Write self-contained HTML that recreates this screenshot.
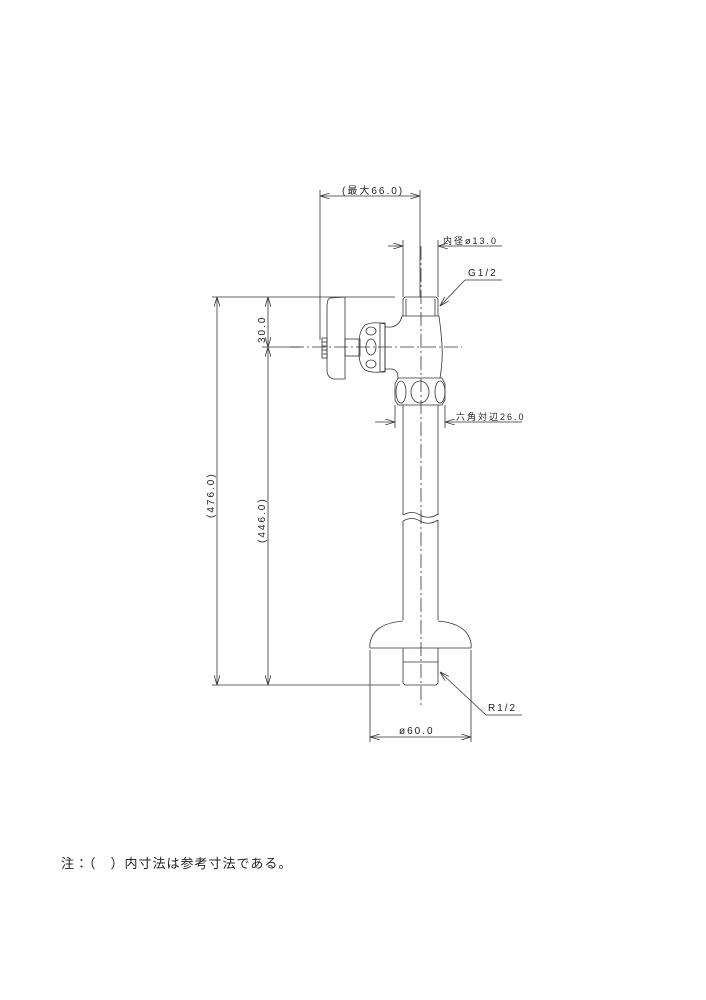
<!DOCTYPE html>
<html><head><meta charset="utf-8"><style>
html,body{margin:0;padding:0;background:#fff;}
svg{display:block;}
text{font-family:"Liberation Sans","Noto Sans CJK JP",sans-serif;fill:#222;}
</style></head><body>
<svg width="706" height="1000" viewBox="0 0 706 1000" xmlns="http://www.w3.org/2000/svg">
<defs>
<marker id="a" markerWidth="10" markerHeight="6" refX="10" refY="3" orient="auto-start-reverse" markerUnits="userSpaceOnUse">
<path d="M0,0 L10,3 L0,6" fill="none" stroke="#333" stroke-width="0.8"/></marker>
</defs>
<g stroke="#333" stroke-width="0.8" fill="none">
<line x1="421" y1="246" x2="421" y2="705" stroke-dasharray="14,3,2,3"/>
<line x1="290" y1="347" x2="462" y2="347" stroke-dasharray="14,3,2,3"/>
<line x1="320" y1="190" x2="320" y2="340"/>
<line x1="420" y1="190" x2="420" y2="297"/>
<line x1="320" y1="196" x2="420" y2="196" marker-start="url(#a)" marker-end="url(#a)"/>
<line x1="403" y1="240" x2="403" y2="297"/>
<line x1="438" y1="240" x2="438" y2="297"/>
<line x1="388" y1="246" x2="403" y2="246" marker-end="url(#a)"/>
<line x1="438" y1="246" x2="502" y2="246" marker-start="url(#a)"/>
<line x1="502" y1="280" x2="465" y2="280"/>
<line x1="465" y1="280" x2="440" y2="306" marker-end="url(#a)"/>
<line x1="212" y1="297" x2="395" y2="297"/>
<line x1="262" y1="347" x2="300" y2="347"/>
<line x1="212" y1="685" x2="400" y2="685"/>
<line x1="217" y1="297" x2="217" y2="685" marker-start="url(#a)" marker-end="url(#a)"/>
<line x1="268" y1="297" x2="268" y2="347" marker-start="url(#a)" marker-end="url(#a)"/>
<line x1="268" y1="347" x2="268" y2="685" marker-start="url(#a)" marker-end="url(#a)"/>
<path d="M330,298 L345,297 L345,379 L333,379 Q327,377 327,370 L327,307 Q327,299 330,298 Z"/>
<rect x="322" y="338" width="5" height="20"/>
<line x1="322" y1="342" x2="327" y2="342"/><line x1="322" y1="346" x2="327" y2="346"/><line x1="322" y1="350" x2="327" y2="350"/><line x1="322" y1="354" x2="327" y2="354"/>
<rect x="345" y="339" width="15" height="17"/>
<path d="M365,325 Q360,330 359,340 L359,356 Q360,366 365,370 Q372,373 380,372 L385,371 L385,324 L380,323 Q372,322 365,325 Z"/>
<rect x="380" y="323" width="5" height="49"/>
<ellipse cx="371" cy="331" rx="5" ry="4"/>
<ellipse cx="371" cy="347" rx="5" ry="8"/>
<ellipse cx="371" cy="364" rx="5" ry="4"/>
<path d="M385,327 L392,327 Q400,325 402,316 L439,316 Q441,330 442,345 Q443,360 440,378"/>
<path d="M385,369 L392,369 Q398,370 398,378"/>
<path d="M403,316 L403,299 L405,297 L436,297 L438,299 L438,316"/>
<line x1="406" y1="299" x2="406" y2="316"/><line x1="435" y1="299" x2="435" y2="316"/>
<path d="M398,378 L442,378 L445,384 L445,400 L442,405 L398,405 L395,400 L395,384 Z"/>
<ellipse cx="401" cy="392" rx="5" ry="11"/>
<ellipse cx="420" cy="392" rx="9" ry="11"/>
<ellipse cx="440" cy="392" rx="5" ry="11"/>
<line x1="395" y1="405" x2="395" y2="428"/><line x1="445" y1="405" x2="445" y2="428"/>
<line x1="375" y1="422" x2="395" y2="422" marker-end="url(#a)"/>
<line x1="445" y1="422" x2="522" y2="422" marker-start="url(#a)"/>
<line x1="403" y1="405" x2="403" y2="515"/><line x1="438" y1="405" x2="438" y2="515"/>
<path d="M403,515 Q412,510 420,515 Q429,520 438,514"/>
<path d="M403,521 Q412,516 420,521 Q429,526 438,520"/>
<line x1="403" y1="521" x2="403" y2="620"/><line x1="438" y1="520" x2="438" y2="620"/>
<path d="M403,621 Q380,623 373,635 Q369,642 370,648 L471,648 Q472,642 468,635 Q461,623 438,621"/>
<path d="M403,648 L403,683 L405,685 L436,685 L438,683 L438,648"/>
<line x1="403" y1="662" x2="438" y2="662"/>
<line x1="522" y1="715" x2="486" y2="715"/>
<line x1="486" y1="715" x2="440" y2="672" marker-end="url(#a)"/>
<line x1="370" y1="650" x2="370" y2="742"/><line x1="471" y1="650" x2="471" y2="742"/>
<line x1="370" y1="737" x2="471" y2="737" marker-start="url(#a)" marker-end="url(#a)"/>
</g>
<g font-size="10" letter-spacing="2">
<text x="342" y="194">(最大66.0)</text>
<text x="443" y="244" font-size="9">内径ø13.0</text>
<text x="468" y="276">G1/2</text>
<text x="456" y="420" font-size="9">六角対辺26.0</text>
<text x="488" y="711">R1/2</text>
<text x="399" y="734">ø60.0</text>
<text transform="translate(214,518) rotate(-90)">(476.0)</text>
<text transform="translate(265,543) rotate(-90)">(446.0)</text>
<text transform="translate(265,343) rotate(-90)">30.0</text>
</g>
<text x="61" y="868" font-size="13" letter-spacing="1">注：（　）内寸法は参考寸法である。</text>
</svg>
</body></html>
